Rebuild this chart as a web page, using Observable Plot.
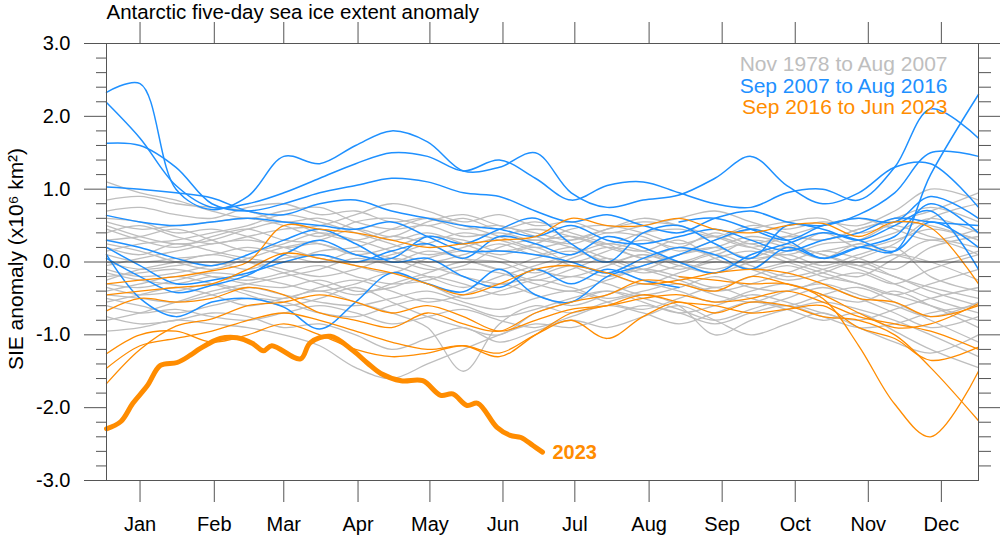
<!DOCTYPE html>
<html><head><meta charset="utf-8">
<script src="https://cdn.jsdelivr.net/npm/d3@7"></script>
<script src="https://cdn.jsdelivr.net/npm/@observablehq/plot@0.6"></script>
<style>body{margin:0;background:#fff}</style>
</head><body><div id="chart"></div>
<script>
// sample days (day of year) shared by the thin yearly lines
const gridDays = [1,15,30,45,60,75,90,105,120,135,150,165,180,195,210,225,240,255,270,285,300,315,330,345,365];

// Nov 1978 to Aug 2007 (gray)
const grayLines = [
  [1.1,0.95,0.85,0.7,0.6,0.7,0.75,0.55,0.45,0.5,0.35,0.4,0.3,0.35,0.25,0.4,0.45,0.35,0.5,0.45,0.55,0.5,0.7,1.0,0.85],
  [0.85,0.9,0.8,0.75,0.7,0.55,0.6,0.45,0.3,0.4,0.25,0.1,0.2,0.0,0.15,0.3,0.2,0.4,0.25,0.35,0.3,0.45,0.6,0.75,0.55],
  [0.7,0.75,0.65,0.6,0.75,0.8,0.65,0.7,0.55,0.6,0.45,0.5,0.35,0.25,0.4,0.35,0.15,0.3,0.45,0.55,0.6,0.4,0.5,0.35,0.2],
  [0.55,0.45,0.5,0.55,0.6,0.5,0.35,0.55,0.6,0.5,0.6,0.45,0.55,0.4,0.25,0.05,0.2,0.1,0.3,0.2,0.05,0.25,0.1,0.0,0.15],
  [0.45,0.3,0.2,0.35,0.45,0.3,0.25,0.1,0.2,0.35,0.3,0.15,0.25,0.45,0.5,0.4,0.25,0.35,0.2,0.1,0.25,0.3,0.55,0.7,0.95],
  [0.3,0.35,0.45,0.3,0.15,0.25,0.4,0.3,0.15,0.0,0.1,0.25,0.1,0.2,0.05,-0.1,0.1,0.2,0.05,0.15,0.4,0.2,0.3,0.45,0.3],
  [0.2,0.1,0.25,0.15,0.05,0.0,0.15,0.2,0.35,0.25,0.05,0.0,-0.15,0.05,0.2,0.15,0.3,0.05,-0.1,0.0,0.15,0.05,-0.1,0.2,0.35],
  [0.1,0.0,0.05,0.1,0.2,0.1,0.0,0.15,0.05,-0.1,-0.05,0.2,0.3,0.2,0.0,0.1,-0.05,-0.15,0.0,0.1,-0.05,0.1,0.2,-0.2,-0.4],
  [0.0,-0.1,-0.05,0.0,-0.1,0.05,0.1,-0.05,-0.15,0.05,0.15,0.05,-0.1,-0.2,-0.05,0.1,0.0,0.15,0.25,0.05,-0.1,-0.2,0.05,0.3,0.1],
  [-0.1,-0.2,-0.15,-0.05,0.0,-0.1,-0.2,-0.1,0.05,-0.05,-0.2,-0.3,-0.2,-0.05,-0.15,-0.3,-0.15,0.0,-0.1,-0.25,-0.15,0.0,-0.2,-0.35,-0.5],
  [-0.15,-0.25,-0.3,-0.2,-0.25,-0.15,-0.05,-0.2,-0.3,-0.25,-0.1,-0.15,-0.3,-0.4,-0.25,-0.1,-0.2,-0.35,-0.2,-0.05,-0.2,-0.3,-0.45,-0.6,-0.8],
  [-0.2,-0.15,-0.1,-0.2,-0.3,-0.35,-0.25,-0.4,-0.35,-0.2,-0.3,-0.45,-0.35,-0.2,-0.3,-0.45,-0.35,-0.2,-0.35,-0.4,-0.25,-0.15,-0.3,-0.1,0.1],
  [-0.3,-0.35,-0.25,-0.15,-0.2,-0.3,-0.4,-0.3,-0.15,-0.3,-0.5,-0.4,-0.25,-0.35,-0.5,-0.4,-0.3,-0.45,-0.55,-0.4,-0.3,-0.45,-0.6,-0.75,-0.55],
  [-0.35,-0.45,-0.4,-0.3,-0.4,-0.5,-0.35,-0.25,-0.4,-0.55,-0.45,-0.3,-0.45,-0.6,-0.45,-0.3,-0.4,-0.55,-0.4,-0.3,-0.45,-0.55,-0.4,-0.6,-0.9],
  [-0.45,-0.5,-0.55,-0.45,-0.35,-0.45,-0.55,-0.6,-0.5,-0.4,-0.55,-0.65,-0.5,-0.4,-0.55,-0.65,-0.5,-0.35,-0.5,-0.6,-0.45,-0.35,-0.55,-0.8,-1.1],
  [-0.5,-0.6,-0.7,-0.6,-0.5,-0.55,-0.7,-0.75,-0.6,-0.5,-0.6,-0.75,-0.65,-0.5,-0.4,-0.55,-0.7,-0.6,-0.45,-0.55,-0.7,-0.8,-0.65,-0.5,-0.35],
  [-0.6,-0.7,-0.65,-0.75,-0.8,-0.7,-0.6,-0.7,-0.85,-0.75,-0.65,-0.8,-0.9,-0.75,-0.6,-0.7,-0.85,-0.7,-0.55,-0.65,-0.8,-0.7,-0.95,-1.2,-1.45],
  [-0.75,-0.85,-0.8,-0.7,-0.75,-0.9,-0.85,-1.0,-1.2,-1.05,-0.9,-1.1,-0.95,-0.8,-0.9,-0.75,-0.6,-0.8,-1.0,-0.85,-0.7,-0.9,-1.1,-1.25,-1.0],
  [-0.95,-0.9,-0.8,-0.85,-0.9,-1.0,-1.15,-1.45,-1.6,-1.4,-1.2,-1.0,-0.85,-0.9,-0.75,-0.6,-0.7,-0.85,-0.7,-0.6,-0.75,-0.9,-0.85,-0.7,-0.6],
  [0.4,0.5,0.35,0.25,0.35,0.45,0.5,0.65,0.8,0.7,0.55,0.65,0.5,0.55,0.4,0.5,0.6,0.7,0.55,0.4,0.3,0.45,0.55,0.5,0.3],
  [0.25,0.15,0.0,-0.1,0.05,0.2,0.3,0.45,0.35,0.55,0.65,0.5,0.4,0.3,0.45,0.6,0.5,0.35,0.2,0.35,0.5,0.6,0.45,0.3,0.45],
  [-0.05,0.05,0.15,0.25,0.3,0.2,0.05,0.0,0.1,0.25,0.4,0.3,0.15,-0.05,-0.2,-0.05,0.1,0.2,0.35,0.25,0.1,-0.05,0.1,0.0,-0.25],
  [-0.25,-0.1,0.0,0.1,0.0,-0.15,-0.3,-0.45,-0.3,-0.15,0.0,-0.1,-0.25,-0.1,0.05,-0.1,-0.25,-0.4,-0.3,-0.15,0.0,-0.1,-0.3,-0.5,-0.7],
  [-0.4,-0.3,-0.2,-0.3,-0.45,-0.6,-0.5,-0.35,-0.55,-0.75,-0.9,-1.0,-0.7,-0.55,-0.4,-0.5,-0.65,-0.8,-0.65,-0.5,-0.35,-0.5,-0.7,-0.9,-0.75],
  [-0.55,-0.45,-0.35,-0.45,-0.6,-0.5,-0.4,-0.55,-0.7,-0.9,-1.5,-0.85,-0.6,-0.7,-0.55,-0.45,-0.6,-1.0,-0.8,-0.65,-0.55,-0.65,-0.8,-1.0,-1.3],
  [0.6,0.55,0.4,0.45,0.35,0.2,0.25,0.1,0.0,0.15,0.05,-0.1,0.05,0.15,0.0,-0.15,-0.05,0.1,-0.05,-0.2,-0.1,0.05,0.25,0.6,0.8],
  [-0.8,-0.7,-0.55,-0.4,-0.3,-0.2,-0.1,0.05,-0.05,-0.2,-0.35,-0.2,-0.05,0.1,0.25,0.15,0.0,-0.1,0.05,0.2,0.1,-0.05,-0.2,-0.4,-0.6],
  [0.15,0.25,0.3,0.4,0.5,0.65,0.55,0.4,0.25,0.1,0.2,0.35,0.45,0.35,0.2,0.05,-0.1,0.05,0.15,0.0,-0.15,-0.3,-0.45,-0.3,-0.1]
];
const gray1978 = [0.15,0.25,0.4,0.6,0.4];              // from gridDays[20]
const gray2007 = [0.5,0.35,0.25,0.3,0.45,0.55,0.4,0.3,0.45,0.6,0.5,0.35,0.2,0.3,0.45,0.55,0.5]; // from gridDays[0]

// Sep 2007 to Aug 2016 (blue)
const blueLines = [
  [2.33,2.45,1.0,0.72,0.9,1.45,1.35,1.6,1.8,1.65,1.25,1.3,1.5,0.95,0.75,0.85,0.92,1.15,1.45,1.05,0.8,0.95,1.3,1.35,0.75],
  [2.19,1.7,1.05,0.75,0.8,0.95,1.15,1.35,1.5,1.45,1.25,1.4,1.15,0.85,1.05,1.1,0.95,0.8,0.75,0.95,1.0,0.85,1.3,2.1,1.7],
  [1.63,1.6,1.3,0.8,0.7,0.8,0.95,1.05,1.15,1.1,0.95,0.9,0.7,0.55,0.65,0.5,0.4,0.6,0.7,0.55,0.5,0.65,0.95,1.5,1.45],
  [1.03,1.0,0.95,0.88,0.7,0.65,0.8,0.85,0.7,0.6,0.5,0.45,0.35,0.5,0.3,0.25,0.35,0.45,0.3,0.15,0.3,0.4,0.6,0.55,0.5],
  [0.64,0.55,0.5,0.55,0.6,0.55,0.5,0.45,0.55,0.35,0.15,0.15,0.1,0.0,-0.15,0.05,0.2,0.1,-0.1,0.2,0.05,0.2,0.15,1.2,2.3],
  [0.2,-0.05,-0.3,-0.25,-0.15,0.0,0.1,0.0,0.15,0.25,0.05,0.35,0.25,0.1,0.35,0.2,0.0,-0.15,0.1,0.25,0.4,0.3,0.15,0.55,0.2],
  [0.1,-0.5,-0.75,-0.55,-0.5,-0.62,-0.92,-0.55,-0.15,-0.3,-0.41,-0.1,-0.45,-0.55,-0.2,-0.05,0.1,0.3,0.45,0.3,0.05,0.2,0.35,0.8,0.4],
  [0.05,-0.2,-0.42,-0.32,-0.18,0.1,0.3,0.1,0.05,0.35,0.25,0.45,0.6,0.25,0.0,0.4,0.5,0.25,0.05,0.5,0.45,0.3,0.5,0.7,-0.1]
];
const blue2007 = [0.55,0.6,0.45,0.3,0.5,0.6,0.55,0.9,0.6];   // from gridDays[16]
const blue2016 = [0.3,0.2,0.05,-0.05,0.1,0.3,0.45,0.25,0.0,0.05,-0.2,-0.35,-0.1,-0.3,-0.1,-0.25,-0.35]; // from gridDays[0]

// Sep 2016 to Jun 2023 (orange)
const orangeLines = [
  [-1.67,-1.2,-0.88,-0.78,-0.6,-0.55,-0.45,-0.55,-0.7,-0.6,-0.75,-0.95,-0.8,-0.65,-0.6,-0.5,-0.45,-0.55,-0.5,-0.4,-0.55,-0.75,-0.85,-0.95,-1.2],
  [-1.46,-1.15,-1.05,-0.95,-0.8,-0.7,-0.8,-0.95,-1.1,-1.2,-1.15,-1.25,-1.0,-0.8,-1.05,-0.75,-0.55,-0.7,-0.55,-0.6,-0.75,-0.8,-1.0,-1.45,-2.18],
  [-1.26,-1.0,-0.95,-1.1,-1.0,-0.85,-1.0,-1.2,-1.3,-1.25,-1.15,-1.3,-1.0,-0.7,-0.6,-0.45,-0.55,-0.6,-0.7,-0.65,-0.6,-0.9,-1.05,-1.35,-1.17],
  [-0.67,-0.5,-0.55,-0.5,-0.35,-0.45,-0.7,-0.8,-0.9,-0.7,-0.85,-0.95,-0.7,-0.55,-0.45,-0.25,-0.3,-0.4,-0.2,-0.3,-0.45,-0.7,-0.9,-0.85,-0.57],
  [-0.3,-0.25,-0.2,-0.12,0.0,0.5,0.45,0.4,0.3,0.2,0.25,0.3,0.35,0.6,0.5,0.5,0.6,0.45,0.4,0.5,0.53,0.35,0.55,0.47,-0.3],
  [-0.45,-0.4,-0.35,-0.3,-0.1,0.12,0.05,-0.05,-0.15,-0.3,-0.45,-0.3,-0.1,-0.05,-0.15,-0.3,-0.25,-0.15,-0.1,-0.15,-0.3,-0.5,-0.55,-0.75,-0.6]
];
const orange2016 = [-0.2,-0.25,-0.3,-0.3,-0.5,-1.15,-1.95,-2.4,-1.5]; // from gridDays[16]

// 2023 (thick orange)
const days2023 = [1,7,12,18,23.5,30.5,36,40,48.5,55.5,62,66.5,70,82,86,94.5,104,110,115.5,124,133,140.5,145.5,151.5,156,164,169.5,174,179,183];
const values2023 = [-2.29,-2.19,-1.94,-1.70,-1.42,-1.38,-1.28,-1.19,-1.05,-1.04,-1.12,-1.22,-1.15,-1.33,-1.11,-1.02,-1.22,-1.39,-1.53,-1.63,-1.63,-1.83,-1.81,-1.97,-1.94,-2.27,-2.38,-2.41,-2.52,-2.61];

const monthLabels = ["Jan","Feb","Mar","Apr","May","Jun","Jul","Aug","Sep","Oct","Nov","Dec"];
const monthTickDays = [15,46,75,106,136,166.5,196.5,227.5,258,288.5,319,349.5];
const yMajor = [-3,-2,-1,0,1,2,3];
const legendTexts = ["Nov 1978 to Aug 2007","Sep 2007 to Aug 2016","Sep 2016 to Jun 2023"];

const GRAY = "#bebebe", BLUE = "#1e90ff", ORANGE = "#ff8c00";

function rows(values, id, start = 0) {
  return values.map((v, i) => ({id, day: gridDays[start + i], value: v}));
}
const grayRows = [
  ...grayLines.flatMap((v, k) => rows(v, "g" + k)),
  ...rows(gray1978, "g1978", 20),
  ...rows(gray2007, "g2007", 0)
];
const blueRows = [
  ...blueLines.flatMap((v, k) => rows(v, "b" + k)),
  ...rows(blue2007, "b2007", 16),
  ...rows(blue2016, "b2016", 0)
];
const orangeRows = [
  ...orangeLines.flatMap((v, k) => rows(v, "o" + k)),
  ...rows(orange2016, "o2016", 16)
];
const rows2023 = days2023.map((d, i) => ({day: d, value: values2023[i]}));
const yMinor = d3.range(-30, 31, 2).map(d => d / 10).filter(d => !Number.isInteger(d));

const chart = Plot.plot({
  width: 1000,
  height: 537,
  marginLeft: 106,
  marginRight: 22,
  marginTop: 43,
  marginBottom: 57,
  x: {domain: [1, 365]},
  y: {domain: [-3, 3]},
  style: {fontFamily: "'Liberation Sans', Arial, Helvetica, sans-serif", background: "white", color: "black"},
  marks: [
    Plot.line(grayRows, {x: "day", y: "value", z: "id", stroke: GRAY, strokeWidth: 1.3, curve: "catmull-rom"}),
    Plot.line(blueRows, {x: "day", y: "value", z: "id", stroke: BLUE, strokeWidth: 1.5, curve: "catmull-rom"}),
    Plot.line(orangeRows, {x: "day", y: "value", z: "id", stroke: ORANGE, strokeWidth: 1.3, curve: "catmull-rom"}),
    Plot.ruleY([0], {stroke: "#333", strokeWidth: 1}),
    Plot.line(rows2023, {x: "day", y: "value", stroke: ORANGE, strokeWidth: 5, curve: "catmull-rom", strokeLinecap: "round", strokeLinejoin: "round"}),
    Plot.text([rows2023[rows2023.length - 1]], {x: "day", y: "value", text: () => "2023", dx: 10, textAnchor: "start", fill: ORANGE, fontWeight: "bold", fontSize: 20}),
    Plot.frame({stroke: "#555"}),
    Plot.axisY(yMajor, {anchor: "left", tickSize: 22, tickPadding: 14, tickFormat: d => d.toFixed(1), fontSize: 20, stroke: "#555", fill: "black", label: null}),
    Plot.axisY(yMinor, {anchor: "left", tickSize: 10, tickFormat: () => "", stroke: "#555", label: null}),
    Plot.axisY(yMajor.filter(d => d > -3), {anchor: "right", tickSize: 22, tickFormat: () => "", stroke: "#555", label: null}),
    Plot.axisY(yMinor, {anchor: "right", tickSize: 12, tickFormat: () => "", stroke: "#555", label: null}),
    Plot.axisX(monthTickDays, {anchor: "top", tickSize: 22, tickFormat: () => "", stroke: "#555", label: null}),
    Plot.axisX(monthTickDays, {anchor: "bottom", tickSize: 22, tickPadding: 14, tickFormat: d => monthLabels[monthTickDays.indexOf(d)], fontSize: 20, stroke: "#555", fill: "black", label: null}),
    Plot.text(["Antarctic five-day sea ice extent anomaly"], {frameAnchor: "top-left", textAnchor: "start", lineAnchor: "bottom", dy: -25, fontSize: 20.5, fill: "black"}),
    Plot.text(["SIE anomaly (x10\u2076 km\u00B2)"], {frameAnchor: "left", textAnchor: "middle", rotate: -90, dx: -90, dy: -3, fontSize: 21, fill: "black"}),
    Plot.text([legendTexts[0]], {frameAnchor: "top-right", textAnchor: "end", lineAnchor: "bottom", dx: -31, dy: 27, fontSize: 21, fill: GRAY}),
    Plot.text([legendTexts[1]], {frameAnchor: "top-right", textAnchor: "end", lineAnchor: "bottom", dx: -31, dy: 49, fontSize: 21, fill: BLUE}),
    Plot.text([legendTexts[2]], {frameAnchor: "top-right", textAnchor: "end", lineAnchor: "bottom", dx: -31, dy: 70, fontSize: 21, fill: ORANGE})
  ]
});
document.getElementById("chart").appendChild(chart);
</script>
</body></html>
